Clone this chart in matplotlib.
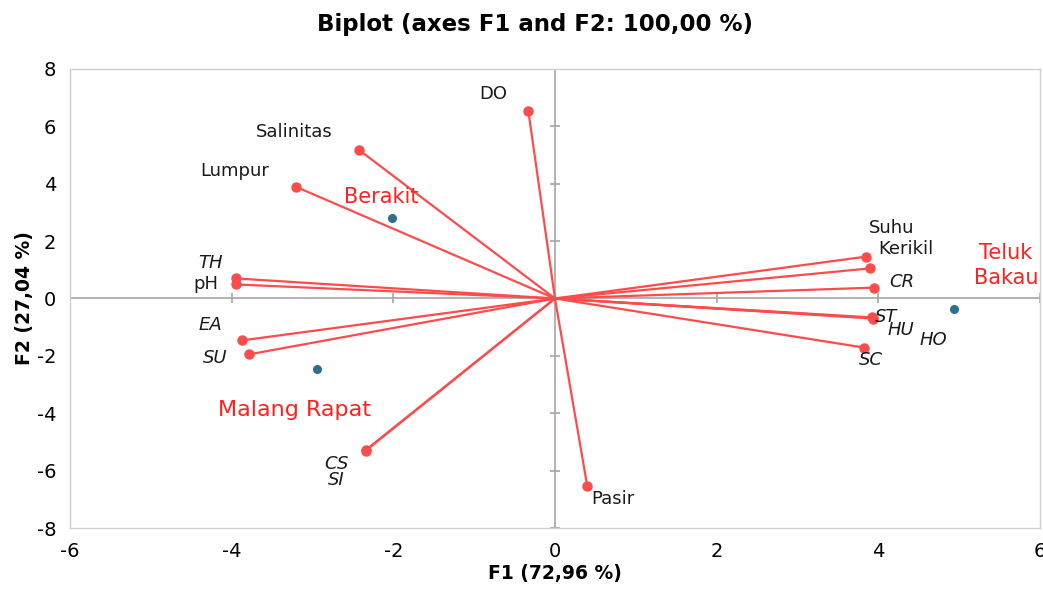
import matplotlib

matplotlib.use("Agg")

import matplotlib.pyplot as plt  # noqa: E402

plt.rcParams["font.family"] = ["DejaVu Sans"]
plt.rcParams["axes.unicode_minus"] = False

# Variables (loadings) in F1/F2 space
var_names = ["DO", "Salinitas", "Lumpur", "TH", "pH", "EA", "SU", "CS", "SI",
             "Pasir", "Suhu", "Kerikil", "CR", "ST", "HU", "HO", "SC"]
var_f1 = [-0.33, -2.43, -3.21, -3.95, -3.95, -3.87, -3.79, -2.34, -2.34,
          0.40, 3.85, 3.90, 3.95, 3.94, 3.93, 3.92, 3.82]
var_f2 = [6.55, 5.19, 3.90, 0.70, 0.49, -1.46, -1.95, -5.30, -5.28,
          -6.55, 1.46, 1.05, 0.38, -0.70, -0.68, -0.66, -1.71]
var_italic = ["TH", "EA", "SU", "CS", "SI", "CR", "ST", "HU", "HO", "SC"]
# label anchor positions (data units)
var_lab_x = [-0.76, -3.23, -3.96, -4.26, -4.32, -4.26, -4.20, -2.70, -2.71,
             0.72, 4.17, 4.34, 4.29, 4.10, 4.28, 4.68, 3.91]
var_lab_y = [7.14, 5.82, 4.46, 1.25, 0.49, -0.94, -2.09, -5.78, -6.34,
             -7.00, 2.44, 1.71, 0.59, -0.63, -1.11, -1.43, -2.16]

# Observations (stations)
obs_names = ["Berakit", "Malang Rapat", "Teluk\nBakau"]
obs_f1 = [-2.02, -2.95, 4.94]
obs_f2 = [2.79, -2.47, -0.35]
obs_lab_x = [-2.15, -3.22, 5.58]
obs_lab_y = [3.55, -3.87, 1.15]

line_red = "#FF4B4B"
dot_blue = "#2D6F8E"
grey = "#A6A6A6"

fig = plt.figure(figsize=(10.43, 6.04), dpi=100)
ax = fig.add_axes([0.0671, 0.1258, 0.9300, 0.7600])

ax.set_xlim(-6, 6)
ax.set_ylim(-8, 8)
ax.set_xticks(range(-6, 7, 2))
ax.set_yticks(range(-8, 9, 2))
ax.tick_params(length=0, labelsize=14, pad=10)
for sp in ax.spines.values():
    sp.set_color("#D0D0D0")
    sp.set_linewidth(1.0)

# zero axes with little cross ticks
ax.axhline(0, color=grey, lw=1.2, zorder=1)
ax.axvline(0, color=grey, lw=1.2, zorder=1)
ax.plot(list(range(-6, 7, 2)), [0] * 7, ls="none", marker="|", ms=7,
        mew=1.2, color=grey, zorder=1)
ax.plot([0] * 9, list(range(-8, 9, 2)), ls="none", marker="_", ms=7,
        mew=1.2, color=grey, zorder=1)

# loading vectors
for x, y in zip(var_f1, var_f2):
    ax.plot([0, x], [0, y], color=line_red, lw=1.6, zorder=2)
ax.plot(var_f1, var_f2, ls="none", marker="o", ms=6.5, color=line_red, zorder=3)

for name, lx, ly in zip(var_names, var_lab_x, var_lab_y):
    ax.text(lx, ly, name, ha="center", va="center", fontsize=13,
            style="italic" if name in var_italic else "normal", color="#1A1A1A")

# observations
ax.plot(obs_f1, obs_f2, ls="none", marker="o", ms=5.5, color=dot_blue, zorder=3)
for name, lx, ly, fs in zip(obs_names, obs_lab_x, obs_lab_y, [15, 16, 15]):
    ax.text(lx, ly, name, ha="center", va="center", fontsize=fs,
            color="#FF2020", linespacing=1.35)

fig.text(0.513, 0.960, "Biplot (axes F1 and F2: 100,00 %)", ha="center",
         va="center", fontsize=16.5, fontweight="bold")
ax.set_xlabel("F1 (72,96 %)", fontsize=13.5, fontweight="bold", labelpad=2)
ax.set_ylabel("F2 (27,04 %)", fontsize=13.5, fontweight="bold", labelpad=2)

fig.savefig("out.png", dpi=100)
